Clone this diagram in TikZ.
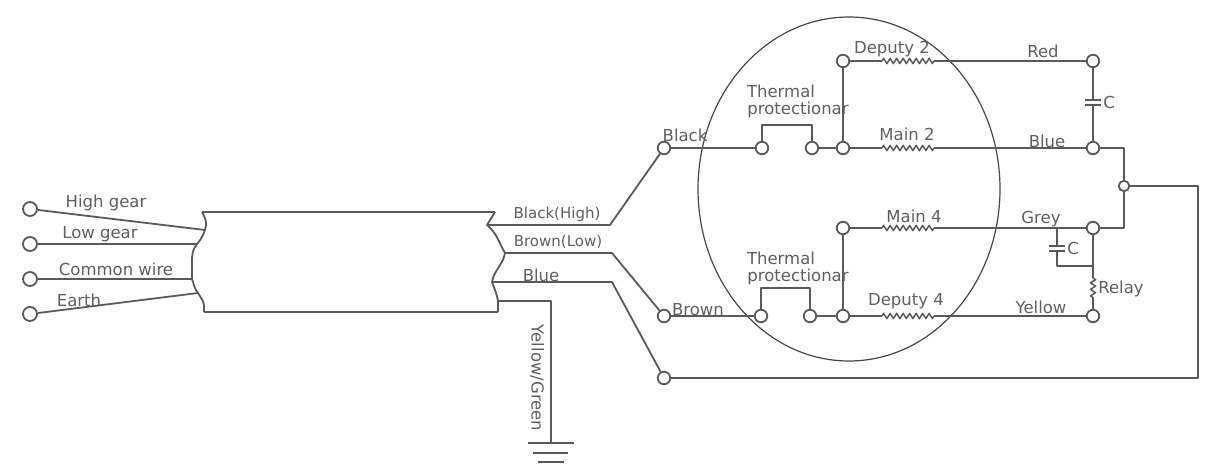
\documentclass[tikz,border=0pt]{standalone}
\usepackage{fontspec}
\setmainfont{DejaVu Sans}
\usetikzlibrary{decorations.pathmorphing}
\definecolor{ink}{HTML}{5A5A5A}
\definecolor{txt}{HTML}{606060}
\tikzset{
  x=1pt,y=-1pt,
  wire/.style={draw=ink,line width=1.8pt,line join=round},
  term/.style={circle,draw=ink,fill=white,line width=1.8pt,minimum size=12.5pt,inner sep=0pt},
  bigterm/.style={term,minimum size=14pt},
  smallterm/.style={term,minimum size=10.5pt},
  tag/.style={text=txt,font=\fontsize{16.5}{18}\selectfont,inner sep=0pt},
  narrowtag/.style={tag,font=\fontsize{15}{18}\selectfont},
  coil/.style={wire,line width=1.5pt,decorate,decoration={zigzag,segment length=6.5pt,amplitude=2.6pt}},
}
\begin{document}
\begin{tikzpicture}
\useasboundingbox (0,0) rectangle (1209,471);
% cable
\coordinate (cl1) at (202,212); \coordinate (cl2) at (205,230); \coordinate (cl3) at (197,244);
\coordinate (cl4) at (192,262); \coordinate (cl5) at (192,279); \coordinate (cl6) at (198,293);
\coordinate (cl7) at (204,305); \coordinate (cl8) at (204,312);
\coordinate (cr1) at (495,212); \coordinate (cr2) at (487,225); \coordinate (cr3) at (505,253);
\coordinate (cr4) at (492,282); \coordinate (cr5) at (498,301); \coordinate (cr6) at (498,312);
\draw[wire] (cl1) -- (cr1);
\draw[wire] (cl8) -- (cr6);
\draw[wire] (cl1) to[out=-60,in=70] (cl2) to[out=-110,in=50] (cl3) to[out=-130,in=90] (cl4) -- (cl5) to[out=-70,in=130] (cl6) to[out=-60,in=100] (cl7) -- (cl8);
\draw[wire] (cr1) -- (cr2) to[out=-40,in=120] (cr3) to[out=-100,in=80] (cr4) to[out=-70,in=100] (cr5) -- (cr6);
% motor outline
\coordinate (motor) at (849,189);
\draw[draw=ink!80!black,line width=1.2pt] (motor) ellipse [x radius=151,y radius=172];
% terminals
\node[bigterm] (hg) at (30,209) {};
\node[bigterm] (lg) at (30,244) {};
\node[bigterm] (cw) at (30,279) {};
\node[bigterm] (ea) at (30,314) {};
\node[term] (kk) at (664,148) {};
\node[term] (bw) at (664,316) {};
\node[term] (bl) at (664,378) {};
\node[term] (t1) at (762,148) {};
\node[term] (t2) at (812,148) {};
\node[term] (j1) at (843,148) {};
\node[term] (d2) at (843,61) {};
\node[term] (t3) at (761,316) {};
\node[term] (t4) at (810,316) {};
\node[term] (j2) at (843,316) {};
\node[term] (m4) at (843,228) {};
\node[term] (red) at (1093,61) {};
\node[term] (blu) at (1093,148) {};
\node[term] (gry) at (1093,228) {};
\node[term] (yel) at (1093,316) {};
\node[smallterm] (hub) at (1124,186) {};
% left wires
\draw[wire] (hg) -- (cl2);
\draw[wire] (lg) -- (cl3);
\draw[wire] (cw) -- (cl5);
\draw[wire] (ea) -- (cl6);
% right wires
\coordinate (k1) at (610,225); \coordinate (b1) at (612,253); \coordinate (u1) at (612,282);
\draw[wire] (cr2) -- (k1) -- (kk);
\draw[wire] (cr3) -- (b1) -- (bw);
\draw[wire] (cr4) -- (u1) -- (bl);
% earth
\coordinate (e1) at (551,301); \coordinate (e2) at (551,443);
\coordinate (g1a) at (528,443); \coordinate (g1b) at (574,443);
\coordinate (g2a) at (533,453); \coordinate (g2b) at (568,453);
\coordinate (g3a) at (538,462); \coordinate (g3b) at (564,462);
\draw[wire] (cr5) -- (e1) -- (e2);
\draw[wire] (g1a) -- (g1b);
\draw[wire] (g2a) -- (g2b);
\draw[wire] (g3a) -- (g3b);
% upper winding
\draw[wire] (kk) -- (t1);
\draw[wire] (t1) -- ++(0,-23) -| (t2);
\draw[wire] (t2) -- (j1);
\draw[wire] (j1) -- (d2);
\coordinate (r1a) at (882,61); \coordinate (r1b) at (934,61);
\coordinate (r2a) at (882,148); \coordinate (r2b) at (934,148);
\coordinate (r3a) at (882,228); \coordinate (r3b) at (934,228);
\coordinate (r4a) at (882,316); \coordinate (r4b) at (934,316);
\draw[wire] (d2) -- (r1a); \draw[coil] (r1a) -- (r1b); \draw[wire] (r1b) -- (red);
\draw[wire] (j1) -- (r2a); \draw[coil] (r2a) -- (r2b); \draw[wire] (r2b) -- (blu);
% lower winding
\draw[wire] (bw) -- (t3);
\draw[wire] (t3) -- ++(0,-28) -| (t4);
\draw[wire] (t4) -- (j2);
\draw[wire] (j2) -- (m4);
\draw[wire] (m4) -- (r3a); \draw[coil] (r3a) -- (r3b); \draw[wire] (r3b) -- (gry);
\draw[wire] (j2) -- (r4a); \draw[coil] (r4a) -- (r4b); \draw[wire] (r4b) -- (yel);
% capacitor top
\coordinate (c1a) at (1093,100); \coordinate (c1b) at (1093,105);
\draw[wire] (red) -- (c1a); \draw[wire] (c1b) -- (blu);
\draw[wire] (1085,100) -- (1101,100);
\draw[wire] (1085,105) -- (1101,105);
% neutral bus
\coordinate (n1) at (1124,148); \coordinate (n2) at (1124,228);
\coordinate (n3) at (1198,186); \coordinate (n4) at (1198,378);
\draw[wire] (blu) -- (n1) -- (hub);
\draw[wire] (hub) -- (n2) -- (gry);
\draw[wire] (hub) -- (n3) -- (n4) -- (bl);
% capacitor bottom
\coordinate (c2t) at (1057,228); \coordinate (c2a) at (1057,246); \coordinate (c2b) at (1057,251);
\coordinate (c2c) at (1057,266); \coordinate (c2d) at (1093,266);
\draw[wire] (c2t) -- (c2a);
\draw[wire] (c2b) -- (c2c) -- (c2d);
\draw[wire] (1049,246) -- (1065,246);
\draw[wire] (1049,251) -- (1065,251);
% relay
\coordinate (ra) at (1093,278); \coordinate (rb) at (1093,298);
\draw[wire] (gry) -- (ra);
\draw[coil] (ra) -- (rb);
\draw[wire] (rb) -- (yel);
% labels
\node[tag] (l1) at (106,203) {High gear};
\node[tag] (l2) at (100,234) {Low gear};
\node[tag] (l3) at (116,269) {Common wire};
\node[tag] (l4) at (79,300) {Earth};
\node[narrowtag] (l5) at (557,214) {Black(High)};
\node[narrowtag] (l6) at (558,242) {Brown(Low)};
\node[tag] (l7) at (541,275) {Blue};
\node[tag,rotate=-90] (l8) at (537,378) {Yellow/Green};
\node[tag] (l9) at (685,135) {Black};
\node[tag] (l10) at (698,310) {Brown};
\node[tag] (l11) at (781,91) {Thermal};
\node[tag] (l12) at (798,110) {protectionar};
\node[tag] (l13) at (781,258) {Thermal};
\node[tag] (l14) at (798,277) {protectionar};
\node[tag] (l15) at (892,49) {Deputy 2};
\node[tag] (l16) at (907,134) {Main 2};
\node[tag] (l17) at (914,216) {Main 4};
\node[tag] (l18) at (906,301) {Deputy 4};
\node[tag] (l19) at (1043,51) {Red};
\node[tag] (l20) at (1047,141) {Blue};
\node[tag] (l21) at (1041,219) {Grey};
\node[tag] (l22) at (1041,307) {Yellow};
\node[tag] (l23) at (1109,102) {C};
\node[tag] (l24) at (1073,248) {C};
\node[tag] (l25) at (1121,289) {Relay};
\end{tikzpicture}
\end{document}
